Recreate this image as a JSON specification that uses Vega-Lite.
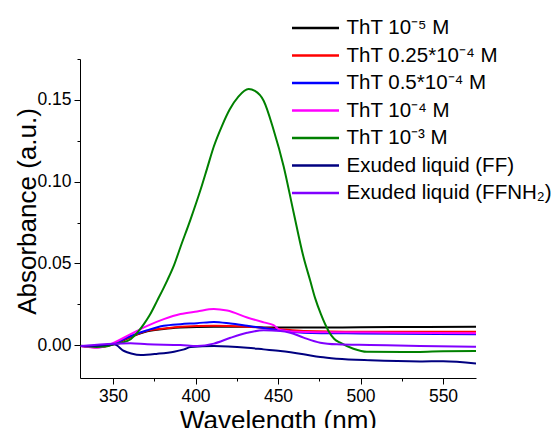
{
  "$schema": "https://vega.github.io/schema/vega-lite/v6.json",
  "autosize": {"type": "none"},
  "width": 396,
  "height": 319,
  "padding": {"left": 80, "top": 59, "right": 79, "bottom": 50},
  "background": "white",
  "config": {
    "view": {"stroke": null},
    "font": "Liberation Sans",
    "axis": {"grid": false, "domainColor": "black", "tickColor": "black", "labelColor": "black", "titleColor": "black", "labelFont": "Liberation Sans", "titleFont": "Liberation Sans", "titleFontWeight": "normal", "labelFontSize": 17.5, "titleFontSize": 26, "domainWidth": 1, "tickWidth": 1}
  },
  "data": {"values": [
    {"s": "ThT 10⁻⁵ M", "w": 330.5, "a": -0.0004},
    {"s": "ThT 10⁻⁵ M", "w": 340.6, "a": -0.001},
    {"s": "ThT 10⁻⁵ M", "w": 350.6, "a": 0.0008},
    {"s": "ThT 10⁻⁵ M", "w": 360.7, "a": 0.005},
    {"s": "ThT 10⁻⁵ M", "w": 370.8, "a": 0.0085},
    {"s": "ThT 10⁻⁵ M", "w": 380.8, "a": 0.01},
    {"s": "ThT 10⁻⁵ M", "w": 390.9, "a": 0.0108},
    {"s": "ThT 10⁻⁵ M", "w": 411.1, "a": 0.0114},
    {"s": "ThT 10⁻⁵ M", "w": 431.3, "a": 0.0113},
    {"s": "ThT 10⁻⁵ M", "w": 447, "a": 0.0108},
    {"s": "ThT 10⁻⁵ M", "w": 470, "a": 0.0108},
    {"s": "ThT 10⁻⁵ M", "w": 500, "a": 0.011},
    {"s": "ThT 10⁻⁵ M", "w": 540, "a": 0.0112},
    {"s": "ThT 10⁻⁵ M", "w": 570, "a": 0.0114},
    {"s": "ThT 0.25*10⁻⁴ M", "w": 330.5, "a": -0.0004},
    {"s": "ThT 0.25*10⁻⁴ M", "w": 340.6, "a": -0.0012},
    {"s": "ThT 0.25*10⁻⁴ M", "w": 350.6, "a": 0.0008},
    {"s": "ThT 0.25*10⁻⁴ M", "w": 360.7, "a": 0.0052},
    {"s": "ThT 0.25*10⁻⁴ M", "w": 370.8, "a": 0.0088},
    {"s": "ThT 0.25*10⁻⁴ M", "w": 380.8, "a": 0.0102},
    {"s": "ThT 0.25*10⁻⁴ M", "w": 390.9, "a": 0.0113},
    {"s": "ThT 0.25*10⁻⁴ M", "w": 411.1, "a": 0.0119},
    {"s": "ThT 0.25*10⁻⁴ M", "w": 431.3, "a": 0.0114},
    {"s": "ThT 0.25*10⁻⁴ M", "w": 451.4, "a": 0.0098},
    {"s": "ThT 0.25*10⁻⁴ M", "w": 465.5, "a": 0.0088},
    {"s": "ThT 0.25*10⁻⁴ M", "w": 500, "a": 0.0083},
    {"s": "ThT 0.25*10⁻⁴ M", "w": 570, "a": 0.0082},
    {"s": "ThT 0.5*10⁻⁴ M", "w": 330.5, "a": -0.0004},
    {"s": "ThT 0.5*10⁻⁴ M", "w": 340.6, "a": -0.0008},
    {"s": "ThT 0.5*10⁻⁴ M", "w": 350.6, "a": 0.001},
    {"s": "ThT 0.5*10⁻⁴ M", "w": 360.7, "a": 0.0057},
    {"s": "ThT 0.5*10⁻⁴ M", "w": 370.8, "a": 0.0092},
    {"s": "ThT 0.5*10⁻⁴ M", "w": 380.8, "a": 0.0119},
    {"s": "ThT 0.5*10⁻⁴ M", "w": 390.9, "a": 0.0129},
    {"s": "ThT 0.5*10⁻⁴ M", "w": 401, "a": 0.0135},
    {"s": "ThT 0.5*10⁻⁴ M", "w": 411.1, "a": 0.0143},
    {"s": "ThT 0.5*10⁻⁴ M", "w": 421.2, "a": 0.0133},
    {"s": "ThT 0.5*10⁻⁴ M", "w": 431.3, "a": 0.0119},
    {"s": "ThT 0.5*10⁻⁴ M", "w": 441.3, "a": 0.0105},
    {"s": "ThT 0.5*10⁻⁴ M", "w": 451.4, "a": 0.0092},
    {"s": "ThT 0.5*10⁻⁴ M", "w": 465.5, "a": 0.0077},
    {"s": "ThT 0.5*10⁻⁴ M", "w": 500, "a": 0.0072},
    {"s": "ThT 0.5*10⁻⁴ M", "w": 570, "a": 0.0068},
    {"s": "ThT 10⁻⁴ M", "w": 330.5, "a": -0.0004},
    {"s": "ThT 10⁻⁴ M", "w": 340.6, "a": -0.0015},
    {"s": "ThT 10⁻⁴ M", "w": 350.6, "a": 0.0016},
    {"s": "ThT 10⁻⁴ M", "w": 360.7, "a": 0.0068},
    {"s": "ThT 10⁻⁴ M", "w": 370.8, "a": 0.0119},
    {"s": "ThT 10⁻⁴ M", "w": 380.8, "a": 0.016},
    {"s": "ThT 10⁻⁴ M", "w": 390.9, "a": 0.0191},
    {"s": "ThT 10⁻⁴ M", "w": 401, "a": 0.0207},
    {"s": "ThT 10⁻⁴ M", "w": 411.1, "a": 0.0222},
    {"s": "ThT 10⁻⁴ M", "w": 419.2, "a": 0.0212},
    {"s": "ThT 10⁻⁴ M", "w": 431.3, "a": 0.017},
    {"s": "ThT 10⁻⁴ M", "w": 441.3, "a": 0.014},
    {"s": "ThT 10⁻⁴ M", "w": 447.3, "a": 0.0123},
    {"s": "ThT 10⁻⁴ M", "w": 451.4, "a": 0.0093},
    {"s": "ThT 10⁻⁴ M", "w": 457.4, "a": 0.0085},
    {"s": "ThT 10⁻⁴ M", "w": 480, "a": 0.0079},
    {"s": "ThT 10⁻⁴ M", "w": 520, "a": 0.0077},
    {"s": "ThT 10⁻⁴ M", "w": 570, "a": 0.0074},
    {"s": "ThT 10⁻³ M", "w": 330.5, "a": -0.0003},
    {"s": "ThT 10⁻³ M", "w": 340, "a": -0.001},
    {"s": "ThT 10⁻³ M", "w": 345, "a": -0.0008},
    {"s": "ThT 10⁻³ M", "w": 350.6, "a": 0.0006},
    {"s": "ThT 10⁻³ M", "w": 355, "a": 0.0015},
    {"s": "ThT 10⁻³ M", "w": 360.7, "a": 0.0037},
    {"s": "ThT 10⁻³ M", "w": 365, "a": 0.008},
    {"s": "ThT 10⁻³ M", "w": 368.7, "a": 0.0129},
    {"s": "ThT 10⁻³ M", "w": 372, "a": 0.018},
    {"s": "ThT 10⁻³ M", "w": 376.8, "a": 0.0273},
    {"s": "ThT 10⁻³ M", "w": 382.9, "a": 0.0397},
    {"s": "ThT 10⁻³ M", "w": 387, "a": 0.049},
    {"s": "ThT 10⁻³ M", "w": 390.9, "a": 0.0601},
    {"s": "ThT 10⁻³ M", "w": 397, "a": 0.077},
    {"s": "ThT 10⁻³ M", "w": 403, "a": 0.0949},
    {"s": "ThT 10⁻³ M", "w": 407, "a": 0.108},
    {"s": "ThT 10⁻³ M", "w": 411.1, "a": 0.1215},
    {"s": "ThT 10⁻³ M", "w": 416, "a": 0.134},
    {"s": "ThT 10⁻³ M", "w": 420.7, "a": 0.1441},
    {"s": "ThT 10⁻³ M", "w": 426, "a": 0.152},
    {"s": "ThT 10⁻³ M", "w": 432.2, "a": 0.1566},
    {"s": "ThT 10⁻³ M", "w": 436, "a": 0.1555},
    {"s": "ThT 10⁻³ M", "w": 441.3, "a": 0.1495},
    {"s": "ThT 10⁻³ M", "w": 447.3, "a": 0.1318},
    {"s": "ThT 10⁻³ M", "w": 453.4, "a": 0.1095},
    {"s": "ThT 10⁻³ M", "w": 459.4, "a": 0.0815},
    {"s": "ThT 10⁻³ M", "w": 465.5, "a": 0.0538},
    {"s": "ThT 10⁻³ M", "w": 469.5, "a": 0.0396},
    {"s": "ThT 10⁻³ M", "w": 472.6, "a": 0.0285},
    {"s": "ThT 10⁻³ M", "w": 476, "a": 0.019},
    {"s": "ThT 10⁻³ M", "w": 480.6, "a": 0.0088},
    {"s": "ThT 10⁻³ M", "w": 484, "a": 0.004},
    {"s": "ThT 10⁻³ M", "w": 487.7, "a": 0.0016},
    {"s": "ThT 10⁻³ M", "w": 495.7, "a": -0.0021},
    {"s": "ThT 10⁻³ M", "w": 503.8, "a": -0.004},
    {"s": "ThT 10⁻³ M", "w": 526, "a": -0.0041},
    {"s": "ThT 10⁻³ M", "w": 550, "a": -0.0037},
    {"s": "ThT 10⁻³ M", "w": 570, "a": -0.0035},
    {"s": "Exuded liquid (FF)", "w": 330.5, "a": -0.0004},
    {"s": "Exuded liquid (FF)", "w": 340, "a": -0.0003},
    {"s": "Exuded liquid (FF)", "w": 350.6, "a": 0.0006},
    {"s": "Exuded liquid (FF)", "w": 356.7, "a": -0.0035},
    {"s": "Exuded liquid (FF)", "w": 361, "a": -0.005},
    {"s": "Exuded liquid (FF)", "w": 366.9, "a": -0.006},
    {"s": "Exuded liquid (FF)", "w": 377, "a": -0.0052},
    {"s": "Exuded liquid (FF)", "w": 387, "a": -0.0039},
    {"s": "Exuded liquid (FF)", "w": 393.1, "a": -0.0025},
    {"s": "Exuded liquid (FF)", "w": 397.1, "a": -0.0011},
    {"s": "Exuded liquid (FF)", "w": 411.1, "a": -0.0004},
    {"s": "Exuded liquid (FF)", "w": 431.3, "a": -0.0015},
    {"s": "Exuded liquid (FF)", "w": 441.3, "a": -0.0025},
    {"s": "Exuded liquid (FF)", "w": 451.4, "a": -0.0035},
    {"s": "Exuded liquid (FF)", "w": 465.5, "a": -0.0055},
    {"s": "Exuded liquid (FF)", "w": 475.6, "a": -0.0072},
    {"s": "Exuded liquid (FF)", "w": 485.7, "a": -0.0082},
    {"s": "Exuded liquid (FF)", "w": 505.8, "a": -0.0092},
    {"s": "Exuded liquid (FF)", "w": 536, "a": -0.0099},
    {"s": "Exuded liquid (FF)", "w": 550.1, "a": -0.0097},
    {"s": "Exuded liquid (FF)", "w": 570, "a": -0.0111},
    {"s": "Exuded liquid (FFNH₂)", "w": 330.5, "a": -0.0004},
    {"s": "Exuded liquid (FFNH₂)", "w": 350.6, "a": 0.001},
    {"s": "Exuded liquid (FFNH₂)", "w": 360.7, "a": 0.0012},
    {"s": "Exuded liquid (FFNH₂)", "w": 370.8, "a": 0.0006},
    {"s": "Exuded liquid (FFNH₂)", "w": 390.9, "a": 0.0002},
    {"s": "Exuded liquid (FFNH₂)", "w": 401, "a": -0.0004},
    {"s": "Exuded liquid (FFNH₂)", "w": 411.1, "a": 0.001},
    {"s": "Exuded liquid (FFNH₂)", "w": 421.2, "a": 0.0046},
    {"s": "Exuded liquid (FFNH₂)", "w": 431.3, "a": 0.0076},
    {"s": "Exuded liquid (FFNH₂)", "w": 441.3, "a": 0.0092},
    {"s": "Exuded liquid (FFNH₂)", "w": 451.4, "a": 0.0088},
    {"s": "Exuded liquid (FFNH₂)", "w": 457.4, "a": 0.0077},
    {"s": "Exuded liquid (FFNH₂)", "w": 465.5, "a": 0.0047},
    {"s": "Exuded liquid (FFNH₂)", "w": 475.6, "a": 0.0016},
    {"s": "Exuded liquid (FFNH₂)", "w": 485.7, "a": 0.0006},
    {"s": "Exuded liquid (FFNH₂)", "w": 505.8, "a": 0.0002},
    {"s": "Exuded liquid (FFNH₂)", "w": 536, "a": -0.0004},
    {"s": "Exuded liquid (FFNH₂)", "w": 570, "a": -0.0009}
  ]},
  "mark": {"type": "line", "strokeWidth": 2, "interpolate": "monotone", "clip": true},
  "encoding": {
    "x": {
      "field": "w", "type": "quantitative",
      "scale": {"domain": [330, 570], "nice": false, "zero": false},
      "axis": {
        "title": "Wavelength (nm)",
        "values": [350, 375, 400, 425, 450, 475, 500, 525, 550],
        "labelExpr": "datum.value % 50 == 0 ? datum.label : ''",
        "tickSize": {"condition": {"test": "datum.value % 50 == 0", "value": 6}, "value": 3},
        "labelPadding": 3,
        "titleBaseline": "alphabetic",
        "titleY": 50
      }
    },
    "y": {
      "field": "a", "type": "quantitative",
      "scale": {"domain": [-0.02, 0.175], "nice": false, "zero": false},
      "axis": {
        "title": "Absorbance (a.u.)",
        "values": [0, 0.025, 0.05, 0.075, 0.1, 0.125, 0.15, 0.175],
        "labelExpr": "indexof([0, 0.05, 0.1, 0.15], datum.value) >= 0 ? format(datum.value, '.2f') : ''",
        "tickSize": {"condition": {"test": "indexof([0, 0.05, 0.1, 0.15], datum.value) >= 0", "value": 6}, "value": 3},
        "labelPadding": 3,
        "titleAngle": -90,
        "titleBaseline": "alphabetic",
        "titleAlign": "center",
        "titleX": -45,
        "titleY": 152
      }
    },
    "color": {
      "field": "s", "type": "nominal",
      "scale": {
        "domain": ["ThT 10⁻⁵ M", "ThT 0.25*10⁻⁴ M", "ThT 0.5*10⁻⁴ M", "ThT 10⁻⁴ M", "ThT 10⁻³ M", "Exuded liquid (FF)", "Exuded liquid (FFNH₂)"],
        "range": ["#000000", "#ff0000", "#0000ff", "#ff00ff", "#008000", "#000080", "#8000ff"]
      },
      "legend": {
        "title": null,
        "orient": "none",
        "legendX": 224,
        "legendY": -42.5,
        "padding": 0,
        "symbolType": "M-2.35,0H2.35",
        "symbolSize": 400,
        "symbolStrokeWidth": 2.5,
        "labelFontSize": 20.5,
        "labelFont": "Liberation Sans",
        "labelColor": "black",
        "labelOffset": 19.5,
        "rowPadding": 5.5,
        "labelLimit": 400
      }
    }
  }
}
